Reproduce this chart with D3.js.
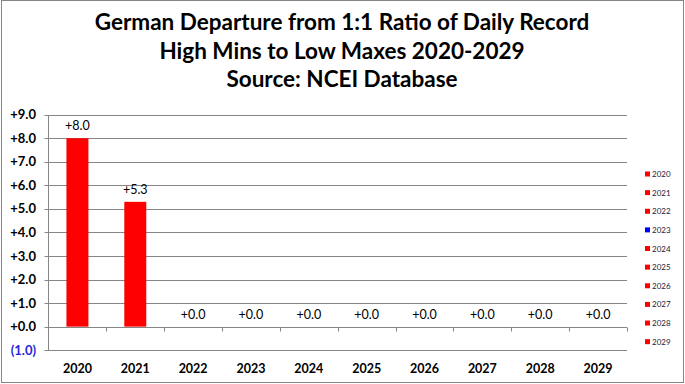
<!DOCTYPE html>
<html>
<head>
<meta charset="utf-8">
<script src="https://cdnjs.cloudflare.com/ajax/libs/d3/7.8.5/d3.min.js"></script>
<style>
  body { margin: 0; background: #fff; }
  text { font-family: Lato, "Open Sans", sans-serif; }
</style>
</head>
<body>
<div id="chart"></div>
<script>
var w = 685;
var h = 384;

var years = ["2020", "2021", "2022", "2023", "2024", "2025", "2026", "2027", "2028", "2029"];
var values = [8.0, 5.3, 0.0, 0.0, 0.0, 0.0, 0.0, 0.0, 0.0, 0.0];
var barColors = ["#ff0000", "#ff0000", "#ff0000", "#0000ff", "#ff0000", "#ff0000", "#ff0000", "#ff0000", "#ff0000", "#ff0000"];
var yTicks = [-1, 0, 1, 2, 3, 4, 5, 6, 7, 8, 9];
var titleLines = ["German Departure from 1:1 Ratio of Daily Record", "High Mins to Low Maxes 2020-2029", "Source: NCEI Database"];

var plot = { left: 48.5, right: 627, top: 114.7, bottom: 350.2 };

var svg = d3.select("#chart")
            .append("svg")
            .attr("width", w)
            .attr("height", h);

// outer frame
svg.append("rect")
    .attr("x", 1.5).attr("y", 0.5)
    .attr("width", w - 3).attr("height", h - 2)
    .attr("fill", "#fff")
    .attr("stroke", "#868686");

// title
svg.append("g")
    .selectAll("text")
    .data(titleLines)
    .enter()
    .append("text")
    .attr("x", 342)
    .attr("y", (d, i) => 30 + i * 28.5)
    .attr("text-anchor", "middle")
    .style("font-size", "22.5px")
    .style("font-weight", "bold")
    .text((d) => d);

// scales
var xScale = d3.scaleBand()
    .domain(years)
    .range([plot.left, plot.right])
    .paddingInner(0.62)
    .paddingOuter(0.31);
var xBounds = d3.scaleBand().domain(years).range([plot.left, plot.right]);
var yScale = d3.scaleLinear()
    .domain([-1, 9])
    .range([plot.bottom, plot.top]);

// gridlines
svg.append("g")
    .selectAll("line")
    .data(yTicks)
    .enter()
    .append("line")
    .attr("x1", plot.left - 4)
    .attr("x2", plot.right)
    .attr("y1", (d) => Math.round(yScale(d)) + 0.5)
    .attr("y2", (d) => Math.round(yScale(d)) + 0.5)
    .attr("stroke", "#868686");

// left axis line
svg.append("line")
    .attr("x1", plot.left).attr("x2", plot.left)
    .attr("y1", Math.round(yScale(9)) + 0.5)
    .attr("y2", Math.round(yScale(-1)) + 0.5)
    .attr("stroke", "#868686");

// category ticks on zero line
var zeroY = Math.round(yScale(0)) + 0.5;
svg.append("g")
    .selectAll("line")
    .data(years.slice(1).concat(["end"]))
    .enter()
    .append("line")
    .attr("x1", (d, i) => Math.round(i < years.length - 1 ? xBounds(d) : plot.right) + 0.5)
    .attr("x2", (d, i) => Math.round(i < years.length - 1 ? xBounds(d) : plot.right) + 0.5)
    .attr("y1", zeroY)
    .attr("y2", zeroY + 4)
    .attr("stroke", "#868686");

// y labels
svg.append("g")
    .selectAll("text")
    .data(yTicks)
    .enter()
    .append("text")
    .attr("x", 36)
    .attr("y", (d) => yScale(d) + 4.5)
    .attr("text-anchor", "end")
    .style("font-size", "13px")
    .style("font-weight", "bold")
    .style("fill", (d) => d < 0 ? "#2626d9" : "#000")
    .text((d) => d < 0 ? "(" + d3.format(".1f")(-d) + ")" : d3.format("+.1f")(d));

// bars
svg.append("g")
    .selectAll("rect")
    .data(values)
    .enter()
    .append("rect")
    .attr("x", (d, i) => xScale(years[i]))
    .attr("y", (d) => yScale(d))
    .attr("width", xScale.bandwidth())
    .attr("height", (d) => yScale(0) - yScale(d))
    .attr("fill", (d, i) => barColors[i]);

// data labels
svg.append("g")
    .selectAll("text")
    .data(values)
    .enter()
    .append("text")
    .attr("x", (d, i) => xScale(years[i]) + xScale.bandwidth() / 2)
    .attr("y", (d) => yScale(d) - 8)
    .attr("text-anchor", "middle")
    .style("font-size", "12.5px")
    .text((d) => d3.format("+.1f")(d));

// x labels
svg.append("g")
    .selectAll("text")
    .data(years)
    .enter()
    .append("text")
    .attr("x", (d) => xBounds(d) + xBounds.bandwidth() / 2)
    .attr("y", 372.5)
    .attr("text-anchor", "middle")
    .style("font-size", "12.5px")
    .style("font-weight", "bold")
    .text((d) => d);

// legend
var legend = svg.append("g")
    .selectAll("g")
    .data(years)
    .enter()
    .append("g")
    .attr("transform", (d, i) => "translate(645," + (174 + i * 18.63) + ")");
legend.append("rect")
    .attr("x", 0).attr("y", -2.5)
    .attr("width", 5).attr("height", 5)
    .attr("fill", (d, i) => barColors[i]);
legend.append("text")
    .attr("x", 7)
    .attr("y", 3)
    .style("font-size", "8px")
    .style("fill", "#1a1a3a")
    .text((d) => d);
</script>
</body>
</html>
